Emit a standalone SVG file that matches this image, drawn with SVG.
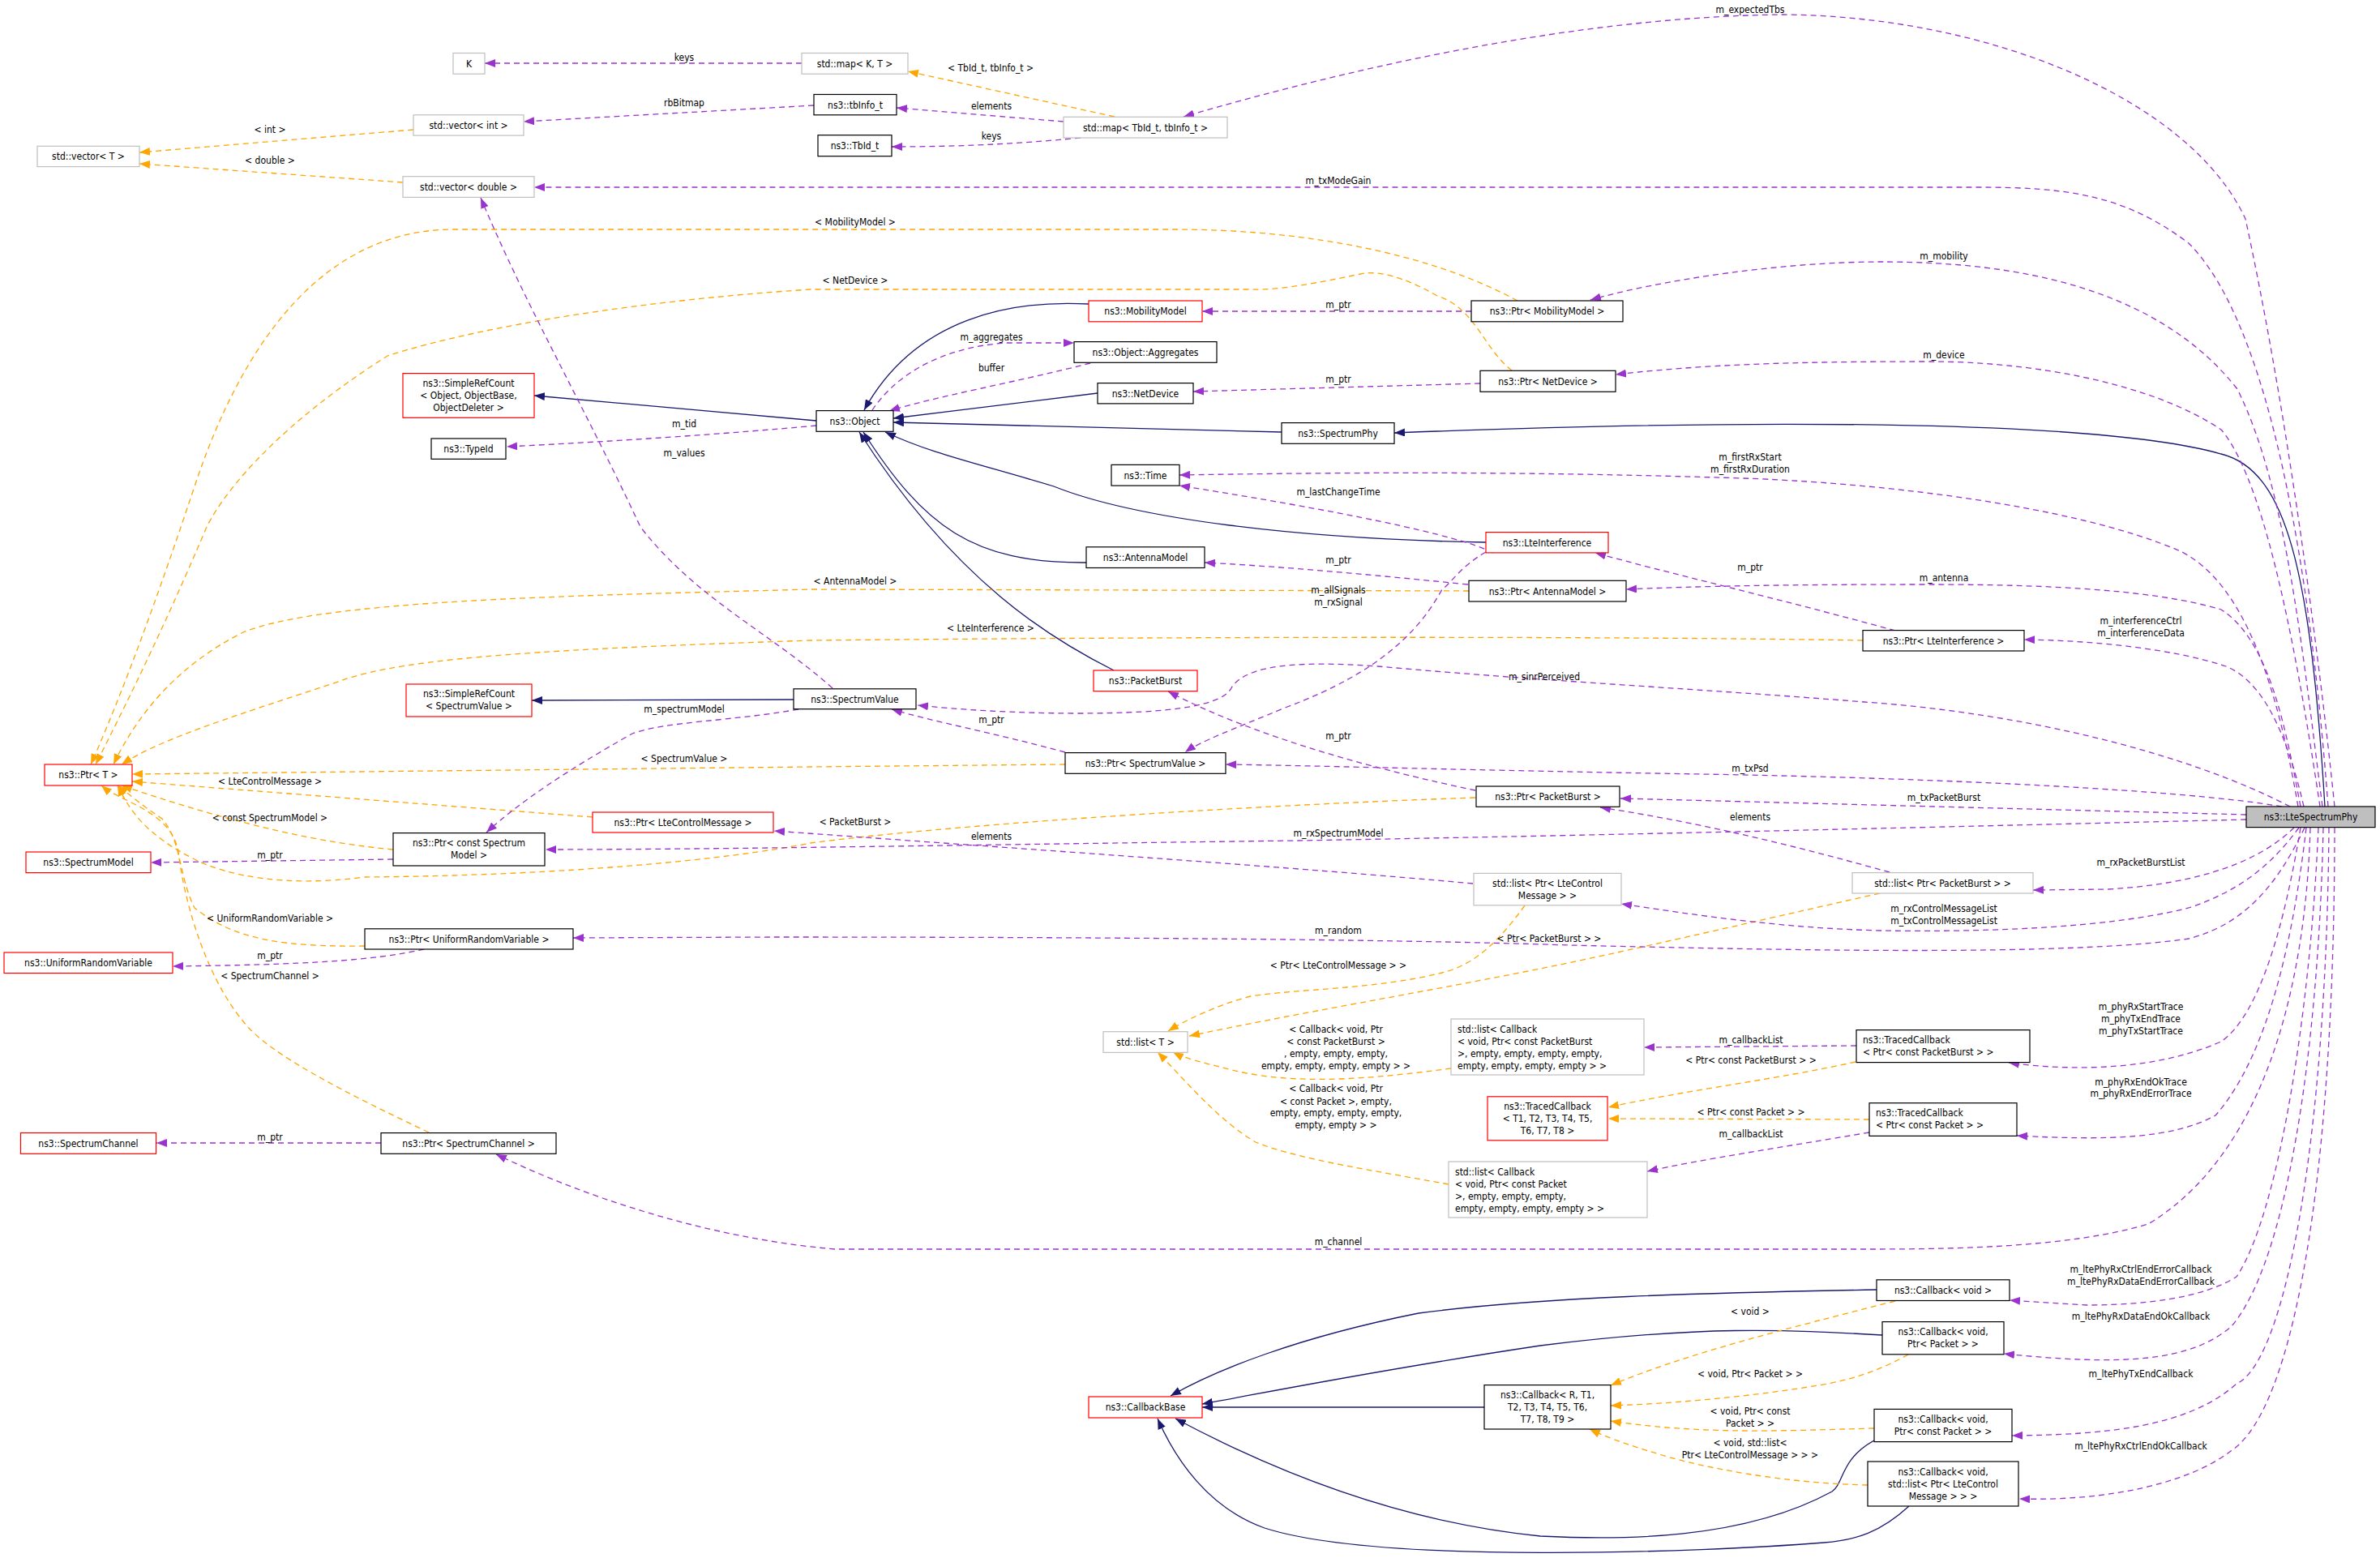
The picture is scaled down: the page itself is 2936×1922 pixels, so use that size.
<svg xmlns="http://www.w3.org/2000/svg" width="2936" height="1922" viewBox="0 0 2936 1922">
<style>
text{font-family:"DejaVu Sans Condensed","DejaVu Sans",sans-serif;font-size:12px;fill:#000;text-anchor:middle}
.n{fill:#fff;stroke:#000;stroke-width:1.2}
.r{fill:#fff;stroke:#ff0000;stroke-width:1.2}
.g{fill:#fff;stroke:#bfbfbf;stroke-width:1.2}
.sel{fill:#bfbfbf;stroke:#000;stroke-width:1.2}
.inh{fill:none;stroke:#191970;stroke-width:1.3;marker-end:url(#an)}
.use{fill:none;stroke:#9a32cd;stroke-width:1.3;stroke-dasharray:7,5;marker-end:url(#ap)}
.tpl{fill:none;stroke:#ffa500;stroke-width:1.3;stroke-dasharray:7,5;marker-end:url(#ao)}
.l{text-anchor:start}
</style>
<defs>
<marker id="an" markerUnits="userSpaceOnUse" markerWidth="14" markerHeight="10" refX="13" refY="5" orient="auto"><path d="M0,0 L13,5 L0,10 z" fill="#191970"/></marker>
<marker id="ap" markerUnits="userSpaceOnUse" markerWidth="14" markerHeight="10" refX="13" refY="5" orient="auto"><path d="M0,0 L13,5 L0,10 z" fill="#9a32cd"/></marker>
<marker id="ao" markerUnits="userSpaceOnUse" markerWidth="14" markerHeight="10" refX="13" refY="5" orient="auto"><path d="M0,0 L13,5 L0,10 z" fill="#ffa500"/></marker>
</defs>
<rect width="2936" height="1922" fill="#fff"/>
<g id="edges">
<path class="inh" d="M1007,519 L659,488"/>
<path class="inh" d="M1343,375 C1250,370 1130,390 1066,506"/>
<path class="inh" d="M1354,485 L1102,516"/>
<path class="inh" d="M1581,533 L1102,521"/>
<path class="inh" d="M2868,995 C2850,700 2820,580 2740,560 C2600,520 2200,515 1720,534"/>
<path class="inh" d="M1833,669 C1600,665 1400,640 1300,600 C1200,570 1150,560 1092,533"/>
<path class="inh" d="M1340,694 C1200,695 1140,650 1065,533"/>
<path class="inh" d="M1374,827 C1300,790 1180,720 1060,533"/>
<path class="inh" d="M979,863 L656,864"/>
<path class="inh" d="M2315,1591 C2100,1595 1900,1600 1750,1620 C1600,1650 1500,1690 1444,1722"/>
<path class="inh" d="M2322,1647 C2200,1640 2100,1635 1900,1660 C1700,1690 1550,1720 1483,1732"/>
<path class="inh" d="M1831,1736 L1483,1736"/>
<path class="inh" d="M2312,1777 C2270,1800 2275,1830 2260,1840 C2150,1900 2000,1900 1900,1895 C1750,1880 1600,1830 1450,1750"/>
<path class="inh" d="M2355,1858 C2320,1890 2290,1900 2250,1903 C2100,1915 1700,1930 1560,1885 C1490,1860 1450,1800 1428,1750"/>

<path class="tpl" d="M510,160 L172,188"/>
<path class="tpl" d="M497,225 L172,202"/>
<path class="tpl" d="M1375,144 L1120,88"/>
<path class="tpl" d="M1872,371 C1760,310 1600,283 1450,283 L560,283 C400,283 300,420 240,600 C180,780 140,880 112,943"/>
<path class="tpl" d="M1865,457 C1830,430 1820,380 1773,365 C1730,340 1700,335 1683,337 C1620,350 1580,358 1543,357 L1000,357 C800,370 600,400 478,439 C350,520 280,600 255,650 C200,780 150,880 118,943"/>
<path class="tpl" d="M1812,729 L1000,727 C700,735 400,740 300,780 C220,820 170,880 140,943"/>
<path class="tpl" d="M2298,790 C2000,785 1500,785 1000,790 C700,800 500,810 420,840 C300,880 200,910 150,943"/>
<path class="tpl" d="M1314,943 L1000,946 L163,955"/>
<path class="tpl" d="M731,1008 L163,964"/>
<path class="tpl" d="M485,1048 C400,1040 300,1020 150,969"/>
<path class="tpl" d="M1820,984 C1500,995 1150,1020 1000,1040 C900,1060 700,1080 450,1082 C350,1095 280,1080 240,1060 C180,1030 160,1000 145,969"/>
<path class="tpl" d="M450,1167 C350,1168 290,1160 240,1120 C220,1080 225,1040 200,1010 C170,990 160,980 145,969"/>
<path class="tpl" d="M529,1397 C430,1350 330,1300 300,1260 C250,1200 225,1100 220,1050 C210,1000 150,990 125,969"/>
<path class="tpl" d="M1881,1117 C1850,1160 1820,1190 1779,1200 C1700,1220 1600,1220 1543,1229 C1500,1240 1460,1260 1441,1272"/>
<path class="tpl" d="M2319,1102 C2150,1140 2000,1175 1900,1195 C1750,1225 1600,1250 1467,1278"/>
<path class="tpl" d="M1790,1318 C1700,1330 1600,1340 1520,1320 C1480,1310 1460,1305 1447,1298"/>
<path class="tpl" d="M1787,1461 C1700,1445 1600,1430 1549,1409 C1500,1380 1460,1330 1428,1298"/>
<path class="tpl" d="M2289,1310 C2200,1330 2080,1345 1984,1366"/>
<path class="tpl" d="M2306,1381 L1984,1380"/>
<path class="tpl" d="M2338,1605 C2200,1640 2080,1670 1987,1709"/>
<path class="tpl" d="M2354,1671 C2320,1690 2290,1700 2255,1707 C2150,1725 2050,1732 1987,1734"/>
<path class="tpl" d="M2312,1762 C2200,1765 2100,1770 1987,1753"/>
<path class="tpl" d="M2304,1832 C2200,1830 2100,1810 2050,1795 C2000,1780 1975,1770 1961,1763"/>

<path class="use" d="M989,78 L598,78"/>
<path class="use" d="M1004,130 L646,150"/>
<path class="use" d="M1312,150 L1106,133"/>
<path class="use" d="M1333,170 C1250,178 1180,181 1100,181"/>
<path class="use" d="M2880,995 C2860,800 2820,500 2770,270 C2700,120 2450,20 2200,18 C2000,20 1750,60 1460,144"/>
<path class="use" d="M2872,995 C2850,700 2800,400 2700,300 C2620,240 2550,231 2440,231 L659,231"/>
<path class="use" d="M1076,506 C1100,470 1150,430 1240,423 L1325,423"/>
<path class="use" d="M1345,448 C1260,470 1150,490 1097,507"/>
<path class="use" d="M1815,384 L1483,384"/>
<path class="use" d="M1826,473 L1472,483"/>
<path class="use" d="M2865,995 C2840,800 2820,600 2760,480 C2650,340 2450,323 2320,323 C2200,323 2050,345 1962,370"/>
<path class="use" d="M2862,995 C2840,850 2800,600 2740,530 C2650,470 2500,446 2380,446 C2200,446 2100,450 1993,462"/>
<path class="use" d="M1007,525 C900,535 750,545 625,551"/>
<path class="use" d="M1027,849 C950,780 860,740 790,650 C720,500 650,380 593,244"/>
<path class="use" d="M2338,778 C2200,740 2050,705 1968,682"/>
<path class="use" d="M1842,682 C1800,660 1650,630 1455,599"/>
<path class="use" d="M2835,995 C2810,850 2770,720 2690,680 C2550,620 2300,595 2150,590 C1900,582 1700,582 1455,586"/>
<path class="use" d="M1811,721 C1700,710 1600,700 1486,694"/>
<path class="use" d="M2838,995 C2820,900 2800,790 2740,752 C2650,725 2500,721 2380,721 C2200,721 2100,723 2006,727"/>
<path class="use" d="M2842,995 C2820,900 2790,840 2746,822 C2680,800 2580,790 2497,789"/>
<path class="use" d="M1833,681 C1800,700 1790,720 1779,727 C1750,780 1700,830 1588,872 C1520,900 1480,915 1462,928"/>
<path class="use" d="M2825,995 C2700,930 2500,880 2300,866 C2100,850 1900,840 1700,822 C1600,815 1540,820 1520,847 C1510,870 1450,880 1330,880 C1250,880 1180,875 1132,870"/>
<path class="use" d="M1314,928 C1230,905 1150,890 1100,875"/>
<path class="use" d="M985,875 C900,890 820,890 780,905 C700,950 640,990 600,1027"/>
<path class="use" d="M485,1060 L186,1064"/>
<path class="use" d="M1820,975 C1700,950 1550,910 1441,853"/>
<path class="use" d="M2815,995 C2700,975 2400,960 2100,955 C1800,950 1650,945 1512,943"/>
<path class="use" d="M2771,1005 C2500,998 2200,990 1999,985"/>
<path class="use" d="M2771,1011 C2400,1020 2000,1030 1600,1037 C1200,1042 900,1048 673,1048"/>
<path class="use" d="M2331,1076 C2220,1045 2100,1015 1974,996"/>
<path class="use" d="M2830,1021 C2790,1060 2720,1090 2600,1097 L2508,1098"/>
<path class="use" d="M1817,1090 C1600,1070 1300,1050 955,1025"/>
<path class="use" d="M2836,1021 C2800,1070 2760,1100 2700,1120 C2600,1145 2450,1150 2320,1148 C2200,1145 2100,1130 2000,1115"/>
<path class="use" d="M2843,1021 C2810,1090 2770,1140 2700,1158 C2550,1180 2200,1172 1936,1166 C1700,1158 1300,1156 950,1156 L707,1157"/>
<path class="use" d="M523,1171 C460,1185 380,1190 213,1192"/>
<path class="use" d="M470,1410 L193,1410"/>
<path class="use" d="M2850,1021 C2845,1200 2800,1420 2650,1510 C2550,1540 2400,1541 2300,1541 L1030,1541 C900,1530 750,1490 612,1424"/>
<path class="use" d="M2290,1290 L2028,1292"/>
<path class="use" d="M2306,1397 C2200,1415 2100,1430 2032,1445"/>
<path class="use" d="M2838,1021 C2820,1130 2790,1250 2740,1285 C2660,1320 2560,1322 2478,1311"/>
<path class="use" d="M2845,1021 C2830,1150 2800,1300 2733,1376 C2680,1405 2600,1407 2488,1401"/>
<path class="use" d="M2860,1021 C2850,1250 2810,1500 2759,1575 C2720,1600 2650,1610 2574,1610 L2479,1604"/>
<path class="use" d="M2866,1021 C2860,1300 2820,1560 2752,1637 C2700,1680 2620,1685 2472,1670"/>
<path class="use" d="M2873,1021 C2870,1400 2820,1680 2759,1707 C2700,1760 2600,1770 2482,1771"/>
<path class="use" d="M2880,1021 C2880,1450 2830,1740 2752,1790 C2700,1830 2600,1852 2491,1849"/>
</g>
<g id="edge-labels">
<text x="844" y="75">keys</text>
<text x="844" y="131">rbBitmap</text>
<text x="333" y="164">&lt; int &gt;</text>
<text x="333" y="202">&lt; double &gt;</text>
<text x="1222" y="88">&lt; TbId_t, tbInfo_t &gt;</text>
<text x="1223" y="135">elements</text>
<text x="1223" y="172">keys</text>
<text x="2159" y="16">m_expectedTbs</text>
<text x="1651" y="227">m_txModeGain</text>
<text x="1055" y="278">&lt; MobilityModel &gt;</text>
<text x="1055" y="350">&lt; NetDevice &gt;</text>
<text x="2398" y="320">m_mobility</text>
<text x="1651" y="380">m_ptr</text>
<text x="1223" y="420">m_aggregates</text>
<text x="1223" y="458">buffer</text>
<text x="2398" y="442">m_device</text>
<text x="1651" y="472">m_ptr</text>
<text x="844" y="527">m_tid</text>
<text x="844" y="563">m_values</text>
<text x="2159" y="568">m_firstRxStart</text>
<text x="2159" y="583">m_firstRxDuration</text>
<text x="1651" y="611">m_lastChangeTime</text>
<text x="1651" y="695">m_ptr</text>
<text x="2159" y="704">m_ptr</text>
<text x="2398" y="717">m_antenna</text>
<text x="1055" y="721">&lt; AntennaModel &gt;</text>
<text x="1651" y="732">m_allSignals</text>
<text x="1651" y="747">m_rxSignal</text>
<text x="2641" y="770">m_interferenceCtrl</text>
<text x="2641" y="785">m_interferenceData</text>
<text x="1222" y="779">&lt; LteInterference &gt;</text>
<text x="1905" y="839">m_sinrPerceived</text>
<text x="844" y="879">m_spectrumModel</text>
<text x="1223" y="892">m_ptr</text>
<text x="1651" y="912">m_ptr</text>
<text x="844" y="940">&lt; SpectrumValue &gt;</text>
<text x="2159" y="952">m_txPsd</text>
<text x="333" y="968">&lt; LteControlMessage &gt;</text>
<text x="2398" y="988">m_txPacketBurst</text>
<text x="2159" y="1012">elements</text>
<text x="333" y="1013">&lt; const SpectrumModel &gt;</text>
<text x="1055" y="1018">&lt; PacketBurst &gt;</text>
<text x="1651" y="1032">m_rxSpectrumModel</text>
<text x="1223" y="1036">elements</text>
<text x="333" y="1059">m_ptr</text>
<text x="2641" y="1068">m_rxPacketBurstList</text>
<text x="2398" y="1125">m_rxControlMessageList</text>
<text x="2398" y="1140">m_txControlMessageList</text>
<text x="333" y="1137">&lt; UniformRandomVariable &gt;</text>
<text x="1651" y="1152">m_random</text>
<text x="1911" y="1162">&lt; Ptr&lt; PacketBurst &gt; &gt;</text>
<text x="333" y="1183">m_ptr</text>
<text x="1651" y="1195">&lt; Ptr&lt; LteControlMessage &gt; &gt;</text>
<text x="333" y="1208">&lt; SpectrumChannel &gt;</text>
<text x="2641" y="1246">m_phyRxStartTrace</text>
<text x="2641" y="1261">m_phyTxEndTrace</text>
<text x="2641" y="1276">m_phyTxStartTrace</text>
<text x="1648" y="1274">&lt; Callback&lt; void, Ptr</text>
<text x="1648" y="1289">&lt; const PacketBurst &gt;</text>
<text x="1648" y="1304">, empty, empty, empty,</text>
<text x="1648" y="1319">empty, empty, empty, empty &gt; &gt;</text>
<text x="2160" y="1287">m_callbackList</text>
<text x="2160" y="1312">&lt; Ptr&lt; const PacketBurst &gt; &gt;</text>
<text x="2641" y="1339">m_phyRxEndOkTrace</text>
<text x="2641" y="1353">m_phyRxEndErrorTrace</text>
<text x="1648" y="1347">&lt; Callback&lt; void, Ptr</text>
<text x="1648" y="1363">&lt; const Packet &gt;, empty,</text>
<text x="1648" y="1377">empty, empty, empty, empty,</text>
<text x="1648" y="1392">empty, empty &gt; &gt;</text>
<text x="2160" y="1376">&lt; Ptr&lt; const Packet &gt; &gt;</text>
<text x="2160" y="1403">m_callbackList</text>
<text x="333" y="1407">m_ptr</text>
<text x="1651" y="1536">m_channel</text>
<text x="2641" y="1570">m_ltePhyRxCtrlEndErrorCallback</text>
<text x="2641" y="1585">m_ltePhyRxDataEndErrorCallback</text>
<text x="2159" y="1622">&lt; void &gt;</text>
<text x="2641" y="1628">m_ltePhyRxDataEndOkCallback</text>
<text x="2159" y="1699">&lt; void, Ptr&lt; Packet &gt; &gt;</text>
<text x="2641" y="1699">m_ltePhyTxEndCallback</text>
<text x="2159" y="1745">&lt; void, Ptr&lt; const</text>
<text x="2159" y="1760">Packet &gt; &gt;</text>
<text x="2159" y="1784">&lt; void, std::list&lt;</text>
<text x="2159" y="1799">Ptr&lt; LteControlMessage &gt; &gt; &gt;</text>
<text x="2641" y="1788">m_ltePhyRxCtrlEndOkCallback</text>
</g>
<g id="n_K"><rect class="g" x="559" y="65.5" width="39" height="25.7"/><text x="578.5" y="82.5">K</text></g>
<g id="n_mapKT"><rect class="g" x="989" y="65.5" width="131" height="25.7"/><text x="1054.5" y="82.5">std::map&lt; K, T &gt;</text></g>
<g id="n_vecInt"><rect class="g" x="510" y="141.8" width="136" height="25.3"/><text x="578" y="158.5">std::vector&lt; int &gt;</text></g>
<g id="n_vecT"><rect class="g" x="46" y="180.3" width="126" height="25.3"/><text x="109" y="197">std::vector&lt; T &gt;</text></g>
<g id="n_vecDouble"><rect class="g" x="497" y="217.7" width="162" height="25.7"/><text x="578" y="234.5">std::vector&lt; double &gt;</text></g>
<g id="n_srcObject"><rect class="r" x="497" y="460.6" width="162" height="54.7"/><text x="578" y="477">ns3::SimpleRefCount</text><text x="578" y="492">&lt; Object, ObjectBase,</text><text x="578" y="507">ObjectDeleter &gt;</text></g>
<g id="n_TypeId"><rect class="n" x="532" y="541" width="92" height="25.3"/><text x="578" y="558">ns3::TypeId</text></g>
<g id="n_tbInfo"><rect class="n" x="1004" y="116.5" width="102" height="25.3"/><text x="1055" y="133.5">ns3::tbInfo_t</text></g>
<g id="n_TbId"><rect class="n" x="1009" y="166.7" width="91" height="26"/><text x="1054.5" y="184">ns3::TbId_t</text></g>
<g id="n_mapTb"><rect class="g" x="1312" y="144.3" width="202" height="25.7"/><text x="1413" y="161.5">std::map&lt; TbId_t, tbInfo_t &gt;</text></g>
<g id="n_Mobility"><rect class="r" x="1343" y="371" width="140" height="25.8"/><text x="1413" y="388">ns3::MobilityModel</text></g>
<g id="n_Aggregates"><rect class="n" x="1325" y="421.6" width="176" height="25.7"/><text x="1413" y="438.5">ns3::Object::Aggregates</text></g>
<g id="n_NetDevice"><rect class="n" x="1354" y="472.6" width="118" height="25.3"/><text x="1413" y="489.5">ns3::NetDevice</text></g>
<g id="n_Object"><rect class="n" x="1007" y="506.6" width="95" height="25.7"/><text x="1054.5" y="523.5">ns3::Object</text></g>
<g id="n_SpectrumPhy"><rect class="n" x="1581" y="521.6" width="139" height="25.7"/><text x="1650.5" y="538.5">ns3::SpectrumPhy</text></g>
<g id="n_Time"><rect class="n" x="1371" y="573.4" width="84" height="25.7"/><text x="1413" y="590.5">ns3::Time</text></g>
<g id="n_PtrMobility"><rect class="n" x="1815" y="371" width="187" height="25.8"/><text x="1908.5" y="388">ns3::Ptr&lt; MobilityModel &gt;</text></g>
<g id="n_PtrNetDevice"><rect class="n" x="1826" y="457.3" width="167" height="26"/><text x="1909.5" y="474.5">ns3::Ptr&lt; NetDevice &gt;</text></g>
<g id="n_srcSV"><rect class="r" x="501" y="844" width="155" height="40"/><text x="578.5" y="860">ns3::SimpleRefCount</text><text x="578.5" y="875">&lt; SpectrumValue &gt;</text></g>
<g id="n_PtrT"><rect class="r" x="55" y="943" width="108" height="26"/><text x="109" y="960">ns3::Ptr&lt; T &gt;</text></g>
<g id="n_PtrLCM"><rect class="r" x="731" y="1002" width="223" height="25"/><text x="842.5" y="1019">ns3::Ptr&lt; LteControlMessage &gt;</text></g>
<g id="n_PtrCSM"><rect class="n" x="485" y="1027.6" width="187" height="40.4"/><text x="578.5" y="1044">ns3::Ptr&lt; const Spectrum</text><text x="578.5" y="1059">Model &gt;</text></g>
<g id="n_SpectrumModel"><rect class="r" x="32" y="1051" width="154" height="25.6"/><text x="109" y="1068">ns3::SpectrumModel</text></g>
<g id="n_PtrURV"><rect class="n" x="450" y="1145.8" width="257" height="25.2"/><text x="578.5" y="1162.5">ns3::Ptr&lt; UniformRandomVariable &gt;</text></g>
<g id="n_URV"><rect class="r" x="5" y="1175" width="208" height="25.5"/><text x="109" y="1192">ns3::UniformRandomVariable</text></g>
<g id="n_LteInterference"><rect class="r" x="1833" y="656.6" width="151" height="25.3"/><text x="1908.5" y="673.5">ns3::LteInterference</text></g>
<g id="n_AntennaModel"><rect class="n" x="1340" y="674.8" width="146" height="25.7"/><text x="1413" y="691.5">ns3::AntennaModel</text></g>
<g id="n_PtrAntenna"><rect class="n" x="1812" y="716.3" width="194" height="25.7"/><text x="1909" y="733.5">ns3::Ptr&lt; AntennaModel &gt;</text></g>
<g id="n_PacketBurst"><rect class="r" x="1349" y="827" width="128" height="25.7"/><text x="1413" y="844">ns3::PacketBurst</text></g>
<g id="n_SpectrumValue"><rect class="n" x="979" y="849.8" width="151" height="24.9"/><text x="1054.5" y="866.5">ns3::SpectrumValue</text></g>
<g id="n_PtrSV"><rect class="n" x="1314" y="928.6" width="198" height="25.7"/><text x="1413" y="945.5">ns3::Ptr&lt; SpectrumValue &gt;</text></g>
<g id="n_PtrPB"><rect class="n" x="1821" y="970" width="177" height="25.3"/><text x="1909.5" y="987">ns3::Ptr&lt; PacketBurst &gt;</text></g>
<g id="n_listLCM"><rect class="g" x="1818" y="1077.4" width="182" height="39.4"/><text x="1909" y="1093.5">std::list&lt; Ptr&lt; LteControl</text><text x="1909" y="1108.5">Message &gt; &gt;</text></g>
<g id="n_listT"><rect class="g" x="1361" y="1272.7" width="104" height="25.7"/><text x="1413" y="1289.5">std::list&lt; T &gt;</text></g>
<g id="n_LTE"><rect class="sel" x="2771" y="995" width="159" height="25.6"/><text x="2850.5" y="1012">ns3::LteSpectrumPhy</text></g>
<g id="n_PtrLteInt"><rect class="n" x="2298" y="777.6" width="199" height="25.4"/><text x="2397.5" y="794.5">ns3::Ptr&lt; LteInterference &gt;</text></g>
<g id="n_listPB"><rect class="g" x="2285" y="1076.6" width="223" height="25.4"/><text x="2396.5" y="1093.5">std::list&lt; Ptr&lt; PacketBurst &gt; &gt;</text></g>
<g id="n_SpectrumChannel"><rect class="r" x="25.5" y="1397.6" width="167" height="25.7"/><text x="109" y="1414.5">ns3::SpectrumChannel</text></g>
<g id="n_PtrSC"><rect class="n" x="470" y="1397.6" width="216" height="25.7"/><text x="578" y="1414.5">ns3::Ptr&lt; SpectrumChannel &gt;</text></g>
<g id="n_listCbPB"><rect class="g" x="1790" y="1257" width="238" height="69"/><text class="l" x="1798" y="1274">std::list&lt; Callback</text><text class="l" x="1798" y="1289">&lt; void, Ptr&lt; const PacketBurst</text><text class="l" x="1798" y="1304"> &gt;, empty, empty, empty, empty,</text><text class="l" x="1798" y="1319">empty, empty, empty, empty &gt; &gt;</text></g>
<g id="n_TracedT"><rect class="r" x="1835" y="1352.8" width="148" height="54"/><text x="1909" y="1369">ns3::TracedCallback</text><text x="1909" y="1384">&lt; T1, T2, T3, T4, T5,</text><text x="1909" y="1399">T6, T7, T8 &gt;</text></g>
<g id="n_listCbP"><rect class="g" x="1787" y="1433" width="245" height="69"/><text class="l" x="1795" y="1450">std::list&lt; Callback</text><text class="l" x="1795" y="1465">&lt; void, Ptr&lt; const Packet</text><text class="l" x="1795" y="1480"> &gt;, empty, empty, empty,</text><text class="l" x="1795" y="1495">empty, empty, empty, empty &gt; &gt;</text></g>
<g id="n_CallbackBase"><rect class="r" x="1343" y="1723" width="140" height="26"/><text x="1413" y="1740">ns3::CallbackBase</text></g>
<g id="n_CallbackR"><rect class="n" x="1831" y="1708.6" width="156" height="54.4"/><text x="1909" y="1725">ns3::Callback&lt; R, T1,</text><text x="1909" y="1740">T2, T3, T4, T5, T6,</text><text x="1909" y="1755">T7, T8, T9 &gt;</text></g>
<g id="n_TracedPB"><rect class="n" x="2290" y="1270.6" width="214" height="40"/><text class="l" x="2298" y="1287">ns3::TracedCallback</text><text class="l" x="2298" y="1302">&lt; Ptr&lt; const PacketBurst &gt; &gt;</text></g>
<g id="n_TracedP"><rect class="n" x="2306" y="1360.7" width="182" height="40.7"/><text class="l" x="2314" y="1377">ns3::TracedCallback</text><text class="l" x="2314" y="1392">&lt; Ptr&lt; const Packet &gt; &gt;</text></g>
<g id="n_CbVoid"><rect class="n" x="2315" y="1578.8" width="164" height="25.7"/><text x="2397" y="1596">ns3::Callback&lt; void &gt;</text></g>
<g id="n_CbPtrPacket"><rect class="n" x="2322" y="1630.6" width="150" height="40.2"/><text x="2397" y="1647">ns3::Callback&lt; void,</text><text x="2397" y="1662">Ptr&lt; Packet &gt; &gt;</text></g>
<g id="n_CbPtrCPacket"><rect class="n" x="2312" y="1738.4" width="170" height="40.2"/><text x="2397" y="1755">ns3::Callback&lt; void,</text><text x="2397" y="1770">Ptr&lt; const Packet &gt; &gt;</text></g>
<g id="n_CbList"><rect class="n" x="2304" y="1803" width="186" height="55"/><text x="2397" y="1820">ns3::Callback&lt; void,</text><text x="2397" y="1835">std::list&lt; Ptr&lt; LteControl</text><text x="2397" y="1850">Message &gt; &gt; &gt;</text></g>
</svg>
